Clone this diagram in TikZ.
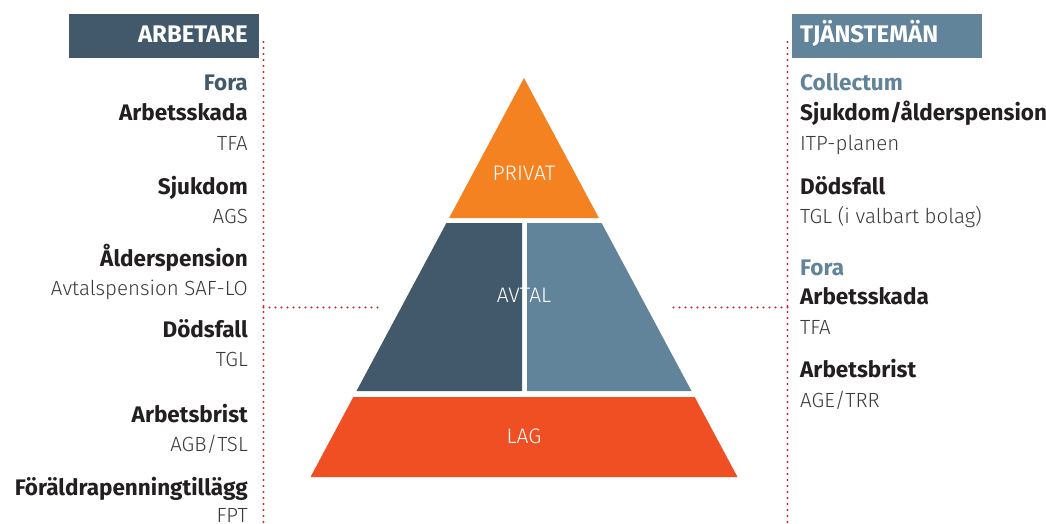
\documentclass[tikz,border=0pt]{standalone}
\usepackage{fontspec}
\setmainfont{Fira Sans}
\newfontfamily\lightfont{Fira Sans Light}
\usetikzlibrary{positioning}
\definecolor{avtalmork}{HTML}{41596A}
\definecolor{avtalljus}{HTML}{62849A}
\definecolor{privatorange}{HTML}{F58220}
\definecolor{lagrod}{HTML}{F04E23}
\definecolor{prickrod}{HTML}{D42030}
\definecolor{textsvart}{HTML}{231F20}
\definecolor{textgra}{HTML}{3A3A3A}
\begin{document}
\begin{tikzpicture}[
 x=1pt, y=-1pt,
 rubrik/.style={font=\bfseries\fontsize{24}{26}\selectfont, text=white, inner sep=0pt},
 bolag/.style={font=\bfseries\fontsize{22.5}{26}\selectfont, inner sep=0pt},
 risk/.style={font=\bfseries\fontsize{22.5}{26}\selectfont, text=textsvart, inner sep=0pt},
 plan/.style={font=\lightfont\fontsize{20.5}{24}\selectfont, text=textgra, inner sep=0pt},
 niva/.style={font=\lightfont\fontsize{21}{24}\selectfont, text=white, inner sep=0pt},
 vanster/.style={anchor=base east},
 hoger/.style={anchor=base west},
 prickad/.style={draw=prickrod, line width=2.4pt, line cap=round, dash pattern=on 0pt off 6pt}
]
\useasboundingbox (0,0) rectangle (1046,524);

\fill[avtalmork] (69,14) rectangle (259,58);
\fill[avtalljus] (792,14) rectangle (982,58);
\node[rubrik, vanster] (arbetare) at (248,43) {ARBETARE};
\node[rubrik, hoger] (tjansteman) at (800,43) {TJÄNSTEMÄN};

\fill[privatorange] (524,78) -- (598.9,218) -- (449.1,218) -- cycle;
\fill[avtalmork] (446.4,223) -- (522,223) -- (522,391) -- (356.5,391) -- cycle;
\fill[avtalljus] (527,223) -- (601.6,223) -- (691.5,391) -- (527,391) -- cycle;
\fill[lagrod] (353.3,397) -- (694.7,397) -- (737.5,477) -- (310.5,477) -- cycle;
\node[niva, anchor=base] (privat) at (524,180) {PRIVAT};
\node[niva, anchor=base] (avtal) at (524,302) {AVTAL};
\node[niva, anchor=base] (lag) at (524,443) {LAG};

\coordinate (vtopp) at (263.5,42);
\coordinate (vbotten) at (263.5,524);
\coordinate (vmitt) at (263.5,307.5);
\coordinate (vslut) at (383,307.5);
\coordinate (htopp) at (787.5,42);
\coordinate (hbotten) at (787.5,524);
\coordinate (hmitt) at (787.5,307.5);
\coordinate (hslut) at (668,307.5);
\draw[prickad] (vtopp) -- (vbotten);
\draw[prickad] (vmitt) -- (vslut);
\draw[prickad] (htopp) -- (hbotten);
\draw[prickad] (hmitt) -- (hslut);

\node[bolag, vanster, text=avtalmork] (vfora) at (248,91) {Fora};
\node[risk, vanster] (varbetsskada) at (248,121) {Arbetsskada};
\node[plan, vanster] (vtfa) at (248,150) {TFA};
\node[risk, vanster] (vsjukdom) at (248,194) {Sjukdom};
\node[plan, vanster] (vags) at (248,223) {AGS};
\node[risk, vanster] (valder) at (248,266) {Ålderspension};
\node[plan, vanster] (vsaflo) at (248,295) {Avtalspension SAF-LO};
\node[risk, vanster] (vdodsfall) at (248,337) {Dödsfall};
\node[plan, vanster] (vtgl) at (248,366) {TGL};
\node[risk, vanster] (varbetsbrist) at (248,422) {Arbetsbrist};
\node[plan, vanster] (vagb) at (248,451) {AGB/TSL};
\node[risk, vanster] (vforaldra) at (248,495) {Föräldrapenningtillägg};
\node[plan, vanster] (vfpt) at (248,522) {FPT};

\node[bolag, hoger, text=avtalljus] (hcollectum) at (800,91) {Collectum};
\node[risk, hoger] (hsjukdom) at (800,121) {Sjukdom/ålderspension};
\node[plan, hoger] (hitp) at (800,150) {ITP-planen};
\node[risk, hoger] (hdodsfall) at (800,194) {Dödsfall};
\node[plan, hoger] (htgl) at (800,223) {TGL (i valbart bolag)};
\node[bolag, hoger, text=avtalljus] (hfora) at (800,275) {Fora};
\node[risk, hoger] (harbetsskada) at (800,304) {Arbetsskada};
\node[plan, hoger] (htfa) at (800,334) {TFA};
\node[risk, hoger] (harbetsbrist) at (800,377) {Arbetsbrist};
\node[plan, hoger] (hage) at (800,407) {AGE/TRR};
\end{tikzpicture}
\end{document}
